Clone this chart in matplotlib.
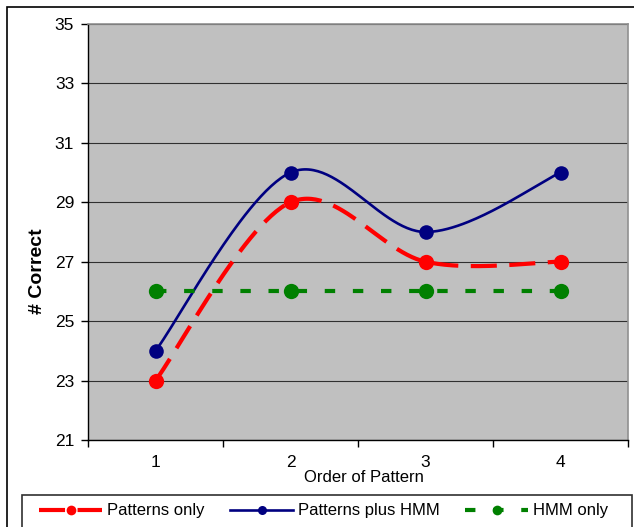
import numpy as np
import matplotlib
matplotlib.use("Agg")
import matplotlib.pyplot as plt
from matplotlib.patches import Rectangle
from matplotlib.lines import Line2D

plt.rcParams['font.family'] = ['Liberation Sans', 'DejaVu Sans']

categories = ["1", "2", "3", "4"]
patterns_only = [23, 29, 27, 27]
patterns_plus_hmm = [24, 30, 28, 30]
hmm_only = [26, 26, 26, 26]
y_ticks = [21, 23, 25, 27, 29, 31, 33, 35]
series_names = ['Patterns only', 'Patterns plus HMM', 'HMM only']


def excel_smooth(xs, ys, n=60):
    pts = np.column_stack([xs, ys]).astype(float)
    out = []
    m = len(pts)
    t = np.linspace(0, 1, n)[:, None]
    for i in range(m - 1):
        p0 = pts[i - 1] if i > 0 else pts[i]
        p1 = pts[i]
        p2 = pts[i + 1]
        p3 = pts[i + 2] if i + 2 < m else pts[i + 1]
        c1 = p1 + (p2 - p0) / 6.0
        c2 = p2 - (p3 - p1) / 6.0
        seg = ((1 - t) ** 3) * p1 + 3 * ((1 - t) ** 2) * t * c1 + 3 * (1 - t) * t ** 2 * c2 + t ** 3 * p2
        out.append(seg if i == 0 else seg[1:])
    s = np.vstack(out)
    return s[:, 0], s[:, 1]


W, H = 634, 527
fig = plt.figure(figsize=(W / 100, H / 100), dpi=100)
ax = fig.add_axes([88 / W, 1 - 440 / H, 540 / W, 416 / H])
ax.set_facecolor('#C0C0C0')

x = np.arange(1, len(categories) + 1)

red = '#FF0000'
navy = '#000080'
green = '#008000'
FS = 12
TFS = 12.5

sx, sy = excel_smooth(x, patterns_only)
l1, = ax.plot(sx, sy, color=red, lw=3, dash_capstyle='butt', zorder=3)
l1.set_dashes((6.25, 3))
ax.plot(x, patterns_only, 'o', color=red, ms=11, mew=0, zorder=5)

sx, sy = excel_smooth(x, patterns_plus_hmm)
ax.plot(sx, sy, color=navy, lw=1.9, zorder=3)
ax.plot(x, patterns_plus_hmm, 'o', color=navy, ms=10.5, mew=0, zorder=5)

sx, sy = excel_smooth(x, hmm_only)
l3, = ax.plot(sx, sy, color=green, lw=3, dash_capstyle='butt', zorder=3)
l3.set_dashes((2.5, 4.25))
ax.plot(x, hmm_only, 'o', color=green, ms=11, mew=0, zorder=5)

ax.set_xlim(0.5, 4.5)
ax.set_ylim(21, 35)
ax.set_yticks(y_ticks)
ax.set_yticklabels([str(v) for v in y_ticks], fontsize=TFS)
ax.tick_params(axis='y', direction='out', length=5, width=1, pad=5, colors='black')
ax.yaxis.grid(True, color='#303030', lw=0.8)
ax.set_axisbelow(True)

ax.set_xticks(np.arange(0.5, 4.6, 1.0))
ax.set_xticklabels([])
ax.set_xticks(x, minor=True)
ax.set_xticklabels(categories, minor=True, fontsize=TFS)
ax.tick_params(axis='x', which='major', direction='out', length=5, width=1)
ax.tick_params(axis='x', which='minor', length=0, pad=11)

for side in ['top', 'right']:
    ax.spines[side].set_color('#909090')
    ax.spines[side].set_linewidth(1.2)
for side in ['left', 'bottom']:
    ax.spines[side].set_color('black')
    ax.spines[side].set_linewidth(1)

fig.text(37 / W, 1 - 271 / H, '# Correct', rotation=90, fontsize=14, fontweight='bold',
         ha='center', va='center')
fig.text(364 / W, 1 - 477 / H, 'Order of Pattern', fontsize=FS, ha='center', va='center')

# outer chart border
fig.patches.append(Rectangle((7 / W, -0.1), 1.2, 1 - 7 / H + 0.1, transform=fig.transFigure,
                             fill=False, edgecolor='black', lw=1.2, figure=fig))
# legend frame
fig.patches.append(Rectangle((22 / W, -0.1), 610 / W, 1 - 495 / H + 0.1, transform=fig.transFigure,
                             fill=False, edgecolor='#303030', lw=1.2, figure=fig))

h1 = Line2D([], [], color=red, lw=3, marker='o', ms=7, mew=0, dash_capstyle='butt')
h1.set_dashes((6.25, 3))
h2 = Line2D([], [], color=navy, lw=1.9, marker='o', ms=6.5, mew=0)
h3 = Line2D([], [], color=green, lw=3, marker='o', ms=7, mew=0, dash_capstyle='butt')
h3.set_dashes((2.5, 4.25))
leg = fig.legend([h1, h2, h3], series_names,
                 loc='center left', bbox_to_anchor=(39 / W, 1 - 511 / H),
                 ncol=3, fontsize=FS, frameon=False, handlelength=3.8, handletextpad=0.3,
                 borderpad=0, columnspacing=1.5, borderaxespad=0)

fig.savefig('out.png', dpi=100, facecolor='white')
